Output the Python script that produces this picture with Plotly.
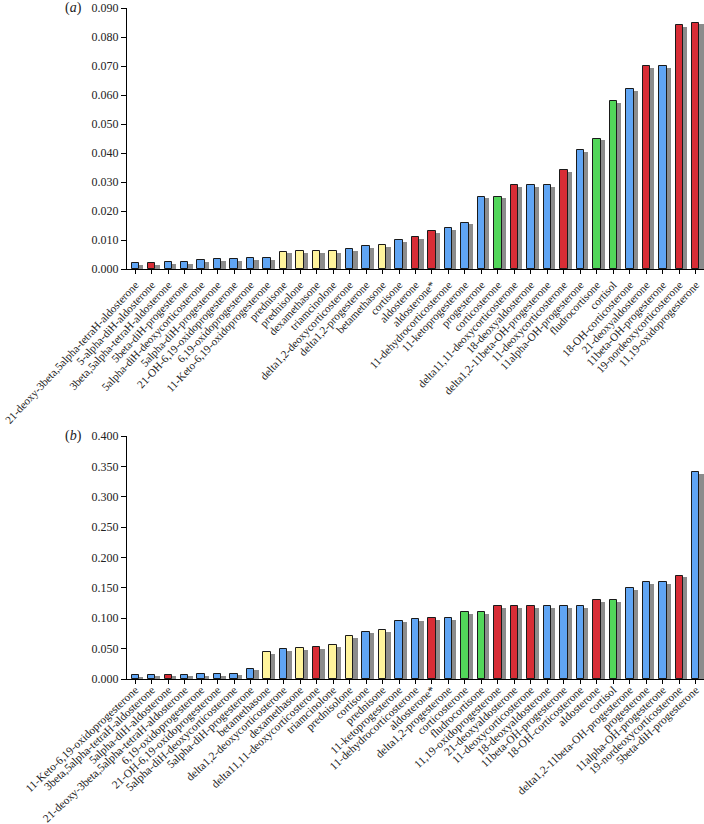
import plotly.graph_objects as go

# ---- panel (a) ----
cats_a = [
    "21-deoxy-3beta,5alpha-tetraH-aldosterone", "5-alpha-diH-aldosterone",
    "3beta,5alpha-tetraH-aldosterone", "5beta-diH-progesterone",
    "5alpha-diH-deoxycorticosterone", "5alpha-diH-progesterone",
    "21-OH-6,19-oxidoprogesterone", "6,19-oxidoprogesterone",
    "11-Keto-6,19-oxidoprogesterone", "prednisone", "prednisolone",
    "dexamethasone", "triamcinolone", "delta1,2-deoxycorticosterone",
    "delta1,2-progesterone", "betamethasone", "cortisone", "aldosterone",
    "aldosterone*", "11-dehydrocorticosterone", "11-ketoprogesterone",
    "progesterone", "corticosterone", "delta11,11-deoxycorticosterone",
    "18-deoxyaldosterone", "delta1,2-11beta-OH-progesterone",
    "11-deoxycorticosterone", "11alpha-OH-progesterone", "fludrocortisone",
    "cortisol", "18-OH-corticosterone", "21-deoxyaldosterone",
    "11beta-OH-progesterone", "19-nordeoxycorticosterone",
    "11,19-oxidoprogesterone",
]
vals_a = [0.002, 0.002, 0.0025, 0.0025, 0.003, 0.0033, 0.0033, 0.0038, 0.0038,
          0.006, 0.0062, 0.0062, 0.0062, 0.007, 0.008, 0.0083, 0.010, 0.011,
          0.013, 0.014, 0.016, 0.025, 0.025, 0.029, 0.029, 0.029, 0.034, 0.041,
          0.045, 0.058, 0.062, 0.070, 0.070, 0.084, 0.085]
grp_a = ["B", "R", "B", "B", "B", "B", "B", "B", "B", "Y", "Y", "Y", "Y", "B",
         "B", "Y", "B", "R", "R", "B", "B", "B", "G", "R", "B", "B", "R", "B",
         "G", "G", "B", "R", "B", "R", "R"]
yticks_a = [0.0, 0.01, 0.02, 0.03, 0.04, 0.05, 0.06, 0.07, 0.08, 0.09]

# ---- panel (b) ----
cats_b = [
    "11-Keto-6,19-oxidoprogesterone", "3beta,5alpha-tetraH-aldosterone",
    "5alpha-diH-aldosterone", "21-deoxy-3beta,5alpha-tetraH-aldosterone",
    "6,19-oxidoprogesterone", "21-OH-6,19-oxidoprogesterone",
    "5alpha-diH-deoxycorticosterone", "5alpha-diH-progesterone",
    "betamethasone", "delta1,2-deoxycorticosterone", "dexamethasone",
    "delta11,11-deoxycorticosterone", "triamcinolone", "prednisolone",
    "cortisone", "prednisone", "11-ketoprogesterone",
    "11-dehydrocorticosterone", "aldosterone*", "delta1,2-progesterone",
    "corticosterone", "fludrocortisone", "11,19-oxidoprogesterone",
    "21-deoxyaldosterone", "11-deoxycorticosterone", "18-deoxyaldosterone",
    "11beta-OH-progesterone", "18-OH-corticosterone", "aldosterone",
    "cortisol", "delta1,2-11beta-OH-progesterone", "progesterone",
    "11alpha-OH-progesterone", "19-nordeoxycorticosterone",
    "5beta-diH-progesterone",
]
vals_b = [0.006, 0.007, 0.007, 0.007, 0.008, 0.008, 0.009, 0.017, 0.044, 0.049,
          0.051, 0.053, 0.056, 0.070, 0.078, 0.080, 0.096, 0.098, 0.100, 0.100,
          0.110, 0.110, 0.120, 0.120, 0.120, 0.120, 0.120, 0.120, 0.130, 0.130,
          0.150, 0.160, 0.160, 0.170, 0.340]
grp_b = ["B", "B", "R", "B", "B", "B", "B", "B", "Y", "B", "Y", "R", "Y", "Y",
         "B", "Y", "B", "B", "R", "B", "G", "G", "R", "R", "R", "B", "B", "B",
         "R", "G", "B", "B", "B", "R", "B"]
yticks_b = [0.0, 0.05, 0.10, 0.15, 0.20, 0.25, 0.30, 0.35, 0.40]

COLORS = {"B": "#60a5f4", "R": "#d82d36", "G": "#52d65a", "Y": "#fff49c"}
FONT = "Liberation Serif, Times New Roman, serif"

fig = go.Figure()

def add_panel(cats, vals, grp, xa, ya, ymax):
    idx = list(range(len(cats)))
    drop = ymax * 0.007
    fig.add_trace(go.Bar(
        x=idx, y=[max(v - drop, 0) for v in vals], width=0.45, offset=-0.225 + 0.26,
        marker=dict(color="#8c8c8c", line=dict(width=0)),
        xaxis=xa, yaxis=ya, hoverinfo="skip", showlegend=False))
    fig.add_trace(go.Bar(
        x=idx, y=vals, width=0.45, offset=-0.225,
        marker=dict(color=[COLORS[g] for g in grp],
                    line=dict(color="#1a1a1a", width=1)),
        xaxis=xa, yaxis=ya, showlegend=False))

add_panel(cats_a, vals_a, grp_a, "x", "y", 0.09)
add_panel(cats_b, vals_b, grp_b, "x2", "y2", 0.40)

H = 824
TOP = 8
plot_h = H - TOP
def frac(py):
    return (H - py) / plot_h

axis_common = dict(showline=True, linecolor="black", linewidth=1,
                   ticks="outside", tickcolor="black", showgrid=False,
                   zeroline=False, automargin=False)
yfont = dict(family=FONT, size=12, color="#222")
xfont_a = dict(family=FONT, size=11.2, color="#222")
xfont_b = dict(family=FONT, size=11.4, color="#222")

fig.update_layout(
    width=704, height=H,
    margin=dict(l=127, r=0, t=TOP, b=0),
    plot_bgcolor="white", paper_bgcolor="white",
    barmode="overlay", bargap=0,
    font=dict(family=FONT, size=12, color="#222"),
    xaxis=dict(domain=[0, 1], anchor="y", range=[-0.5, 34.5],
               tickmode="array", tickvals=list(range(len(cats_a))),
               ticktext=cats_a, tickangle=-47, tickson="boundaries",
               ticklen=4, tickfont=xfont_a, ticklabeloverflow="allow",
               **axis_common),
    yaxis=dict(domain=[frac(269), 1.0], anchor="x", range=[0, 0.09],
               tickmode="array", tickvals=yticks_a, tickformat=".3f",
               ticklen=5, tickfont=yfont, **axis_common),
    xaxis2=dict(domain=[0, 1], anchor="y2", range=[-0.5, 34.5],
                tickmode="array", tickvals=list(range(len(cats_b))),
                ticktext=cats_b, tickangle=-43, tickson="boundaries",
                ticklen=4, tickfont=xfont_b, ticklabeloverflow="allow",
                ticklabelstandoff=-5, **axis_common),
    yaxis2=dict(domain=[frac(679), frac(436)], anchor="x2", range=[0, 0.40],
                tickmode="array", tickvals=yticks_b, tickformat=".3f",
                ticklen=5, tickfont=yfont, **axis_common),
    annotations=[
        dict(text="(<i>a</i>)", xref="paper", yref="paper",
             x=(84 - 127) / 577, y=1.0, xanchor="right", yanchor="middle",
             showarrow=False, font=dict(family=FONT, size=14, color="#222")),
        dict(text="(<i>b</i>)", xref="paper", yref="paper",
             x=(84 - 127) / 577, y=frac(436), xanchor="right", yanchor="middle",
             showarrow=False, font=dict(family=FONT, size=14, color="#222")),
    ],
)

fig.write_html(
    "out.html",
    config={"displayModeBar": False},
    post_script="document.body.style.margin='0';document.body.style.overflow='hidden';",
)
